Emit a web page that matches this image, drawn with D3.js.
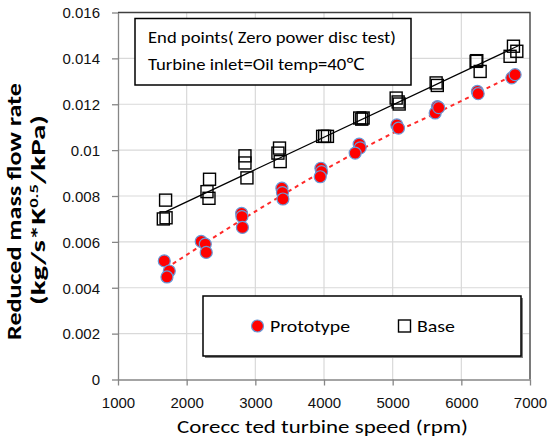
<!DOCTYPE html>
<html><head><meta charset="utf-8">
<script src="https://cdn.jsdelivr.net/npm/d3@7"></script>
<style>
html,body{margin:0;padding:0;background:#fff;}
svg{display:block;font-family:Carlito,Calibri,Lato,"Open Sans",sans-serif;}
</style></head>
<body>
<svg id="chart" width="548" height="441"></svg>
<script>
// ---- data ----
const protoRpm  = [1674,1747,1713, 2212,2271,2285, 2800,2805,2812, 3387,3395,3402, 3955,3965,3945, 4512,4527,4454, 5061,5085, 5652,5619,5670, 6234,6245, 6735,6783];
const protoFlow = [0.00517,0.00473,0.00447, 0.00602,0.0059,0.00554, 0.00724,0.0071,0.00663, 0.00834,0.00815,0.00787, 0.00921,0.00906,0.00884, 0.01026,0.0101,0.00987, 0.0111,0.01096, 0.0119,0.01162,0.01185, 0.01256,0.01246, 0.01315,0.01329];
const baseRpm   = [1660,1700,1693, 2333,2296,2325, 2849,2849,2878, 3352,3329,3362, 3980,4010,4050, 4520,4550,4570, 5051,5080,5095, 5633,5650, 6215,6225,6274, 6759,6808,6710];
const baseFlow  = [0.0070,0.00705,0.00782, 0.00873,0.00819,0.0079, 0.00975,0.00944,0.00879, 0.01009,0.00987,0.0095, 0.0106,0.0106,0.0106, 0.0114,0.01135,0.0114, 0.01227,0.0121,0.01201, 0.01293,0.01282, 0.01387,0.0139,0.01343, 0.01453,0.01431,0.01409];
// trend lines
const protoTrendRpm  = [1700, 3073, 5109, 5400, 6780];
const protoTrendFlow = [0.00485, 0.00746, 0.01089, 0.01129, 0.0133];
const baseTrendRpm   = [1690, 6830];
const baseTrendFlow  = [0.00731, 0.01455];
const xTicks = [1000,2000,3000,4000,5000,6000,7000];
const xTickLabels = ["1000","2000","3000","4000","5000","6000","7000"];
const yTicks = [0,0.002,0.004,0.006,0.008,0.01,0.012,0.014,0.016];
const yTickLabels = ["0","0.002","0.004","0.006","0.008","0.01","0.012","0.014","0.016"];
const seriesNames = ["Prototype","Base"];
const noteLines = ["End points( Zero power disc test)","Turbine inlet=Oil temp=40\u2103"];

// ---- chart ----
const svg = d3.select("#chart");
const L=118, R=530, T=12.5, B=379.5;
const x = d3.scaleLinear().domain([1000,7000]).range([L,R]);
const y = d3.scaleLinear().domain([0,0.016]).range([B,T]);

function fit(sel, w){ sel.attr("textLength", w).attr("lengthAdjust","spacingAndGlyphs"); return sel; }

// gridlines
const g = svg.append("g");
g.selectAll("line.gx").data(xTicks.slice(1)).join("line")
  .attr("x1",d=>x(d)).attr("x2",d=>x(d)).attr("y1",T).attr("y2",B)
  .attr("stroke","#d9d9d9").attr("stroke-width",1.2);
g.selectAll("line.gy").data(yTicks.slice(1)).join("line")
  .attr("x1",L).attr("x2",R).attr("y1",d=>y(d)).attr("y2",d=>y(d))
  .attr("stroke","#d9d9d9").attr("stroke-width",1.2);
// plot border (top/right)
svg.append("path").attr("d",`M${L},${T}H${R}V${B}`).attr("fill","none")
  .attr("stroke","#404040").attr("stroke-width",1.3);

// axes
const xAxis = svg.append("g").attr("transform",`translate(0,${B})`)
  .call(d3.axisBottom(x).tickValues(xTicks).tickFormat((d,i)=>xTickLabels[i]).tickSize(6).tickSizeOuter(0));
xAxis.select(".domain").attr("stroke","#868686").attr("stroke-width",1.3);
xAxis.selectAll(".tick line").attr("stroke","#868686").attr("stroke-width",1.3);
xAxis.selectAll(".tick text").attr("y",28.5).attr("dy",null)
  .style("font-size","15px").attr("fill","#111").style("font-family","inherit");

const yAxis = svg.append("g").attr("transform",`translate(${L},0)`)
  .call(d3.axisLeft(y).tickValues(yTicks).tickFormat((d,i)=>yTickLabels[i]).tickSize(6).tickPadding(12).tickSizeOuter(0));
yAxis.select(".domain").attr("stroke","#868686").attr("stroke-width",1.3);
yAxis.selectAll(".tick line").attr("stroke","#868686").attr("stroke-width",1.3);
yAxis.selectAll(".tick text").attr("dy","0.35em")
  .style("font-size","15px").attr("fill","#111").style("font-family","inherit");

// trend lines
const line = d3.line().x(d=>x(d[0])).y(d=>y(d[1]));
svg.append("path").datum(baseTrendRpm.map((v,i)=>[v,baseTrendFlow[i]]))
  .attr("d",line).attr("fill","none").attr("stroke","#000").attr("stroke-width",1.3);
svg.append("path").datum(protoTrendRpm.map((v,i)=>[v,protoTrendFlow[i]]))
  .attr("d",line.curve(d3.curveMonotoneX)).attr("fill","none").attr("stroke","#ff2a2a")
  .attr("stroke-width",2).attr("stroke-dasharray","4,4");

// base squares
const S=12;
svg.append("g").selectAll("rect").data(baseRpm.map((v,i)=>[v,baseFlow[i]])).join("rect")
  .attr("x",d=>x(d[0])-S/2).attr("y",d=>y(d[1])-S/2).attr("width",S).attr("height",S)
  .attr("fill","none").attr("stroke","#000").attr("stroke-width",1.4);
// prototype circles
svg.append("g").selectAll("circle").data(protoRpm.map((v,i)=>[v,protoFlow[i]])).join("circle")
  .attr("cx",d=>x(d[0])).attr("cy",d=>y(d[1])).attr("r",6)
  .attr("fill","#ff0000").attr("stroke","#6a98d6").attr("stroke-width",1.2);

// note box
svg.append("rect").attr("x",135).attr("y",18.5).attr("width",276).attr("height",66.5)
  .attr("fill","#fff").attr("stroke","#000").attr("stroke-width",1.5);
const noteW = [248, 217];
svg.append("g").selectAll("text").data(noteLines).join("text")
  .attr("x",148).attr("y",(d,i)=>42.5+i*27.5).text(d=>d)
  .attr("textLength",(d,i)=>noteW[i]).attr("lengthAdjust","spacingAndGlyphs")
  .style("font-size","17px").attr("fill","#000");

// legend
svg.append("rect").attr("x",205).attr("y",298).attr("width",318).attr("height",60).attr("fill","#7f7f7f");
svg.append("rect").attr("x",203).attr("y",296).attr("width",318).attr("height",60)
  .attr("fill","#fff").attr("stroke","#000").attr("stroke-width",1.5);
svg.append("circle").attr("cx",257.5).attr("cy",326).attr("r",6)
  .attr("fill","#ff0000").attr("stroke","#6a98d6").attr("stroke-width",1.2);
svg.append("rect").attr("x",404.5-S/2).attr("y",326-S/2).attr("width",S).attr("height",S)
  .attr("fill","none").attr("stroke","#000").attr("stroke-width",1.4);
fit(svg.append("text").attr("x",270).attr("y",332).text(seriesNames[0]).style("font-size","17px"), 80);
fit(svg.append("text").attr("x",417).attr("y",332).text(seriesNames[1]).style("font-size","17px"), 38);

// axis titles
fit(svg.append("text").attr("x",177).attr("y",433)
  .text("Corecc ted turbine speed (rpm)").style("font-size","19px").attr("fill","#000"), 291);
const yt1 = svg.append("text").attr("transform","translate(0,211) rotate(-90)")
  .attr("text-anchor","middle").style("font-size","20px").style("font-weight","bold").attr("fill","#000")
  .attr("x",0).attr("y",21).text("Reduced mass flow rate");
const yt2 = svg.append("text").style("font-size","20px").style("font-weight","bold").attr("fill","#000")
  .attr("x",0).attr("y",0);
yt2.append("tspan").text("(kg/s*K");
yt2.append("tspan").attr("dy",-7).style("font-size","12px").text("0.5");
yt2.append("tspan").attr("dy",7).text("/kPa)");
// stretch titles along their length to the reference extents
const w1 = yt1.node().getComputedTextLength();
yt1.attr("transform",`translate(0,211.5) rotate(-90) scale(${257/w1},1)`);
const w2 = yt2.node().getBBox().width;
const s2 = 190/w2;
yt2.attr("transform",`translate(45,210) rotate(-90) scale(${s2},1) translate(${-w2/2},0)`);
</script>
</body></html>
